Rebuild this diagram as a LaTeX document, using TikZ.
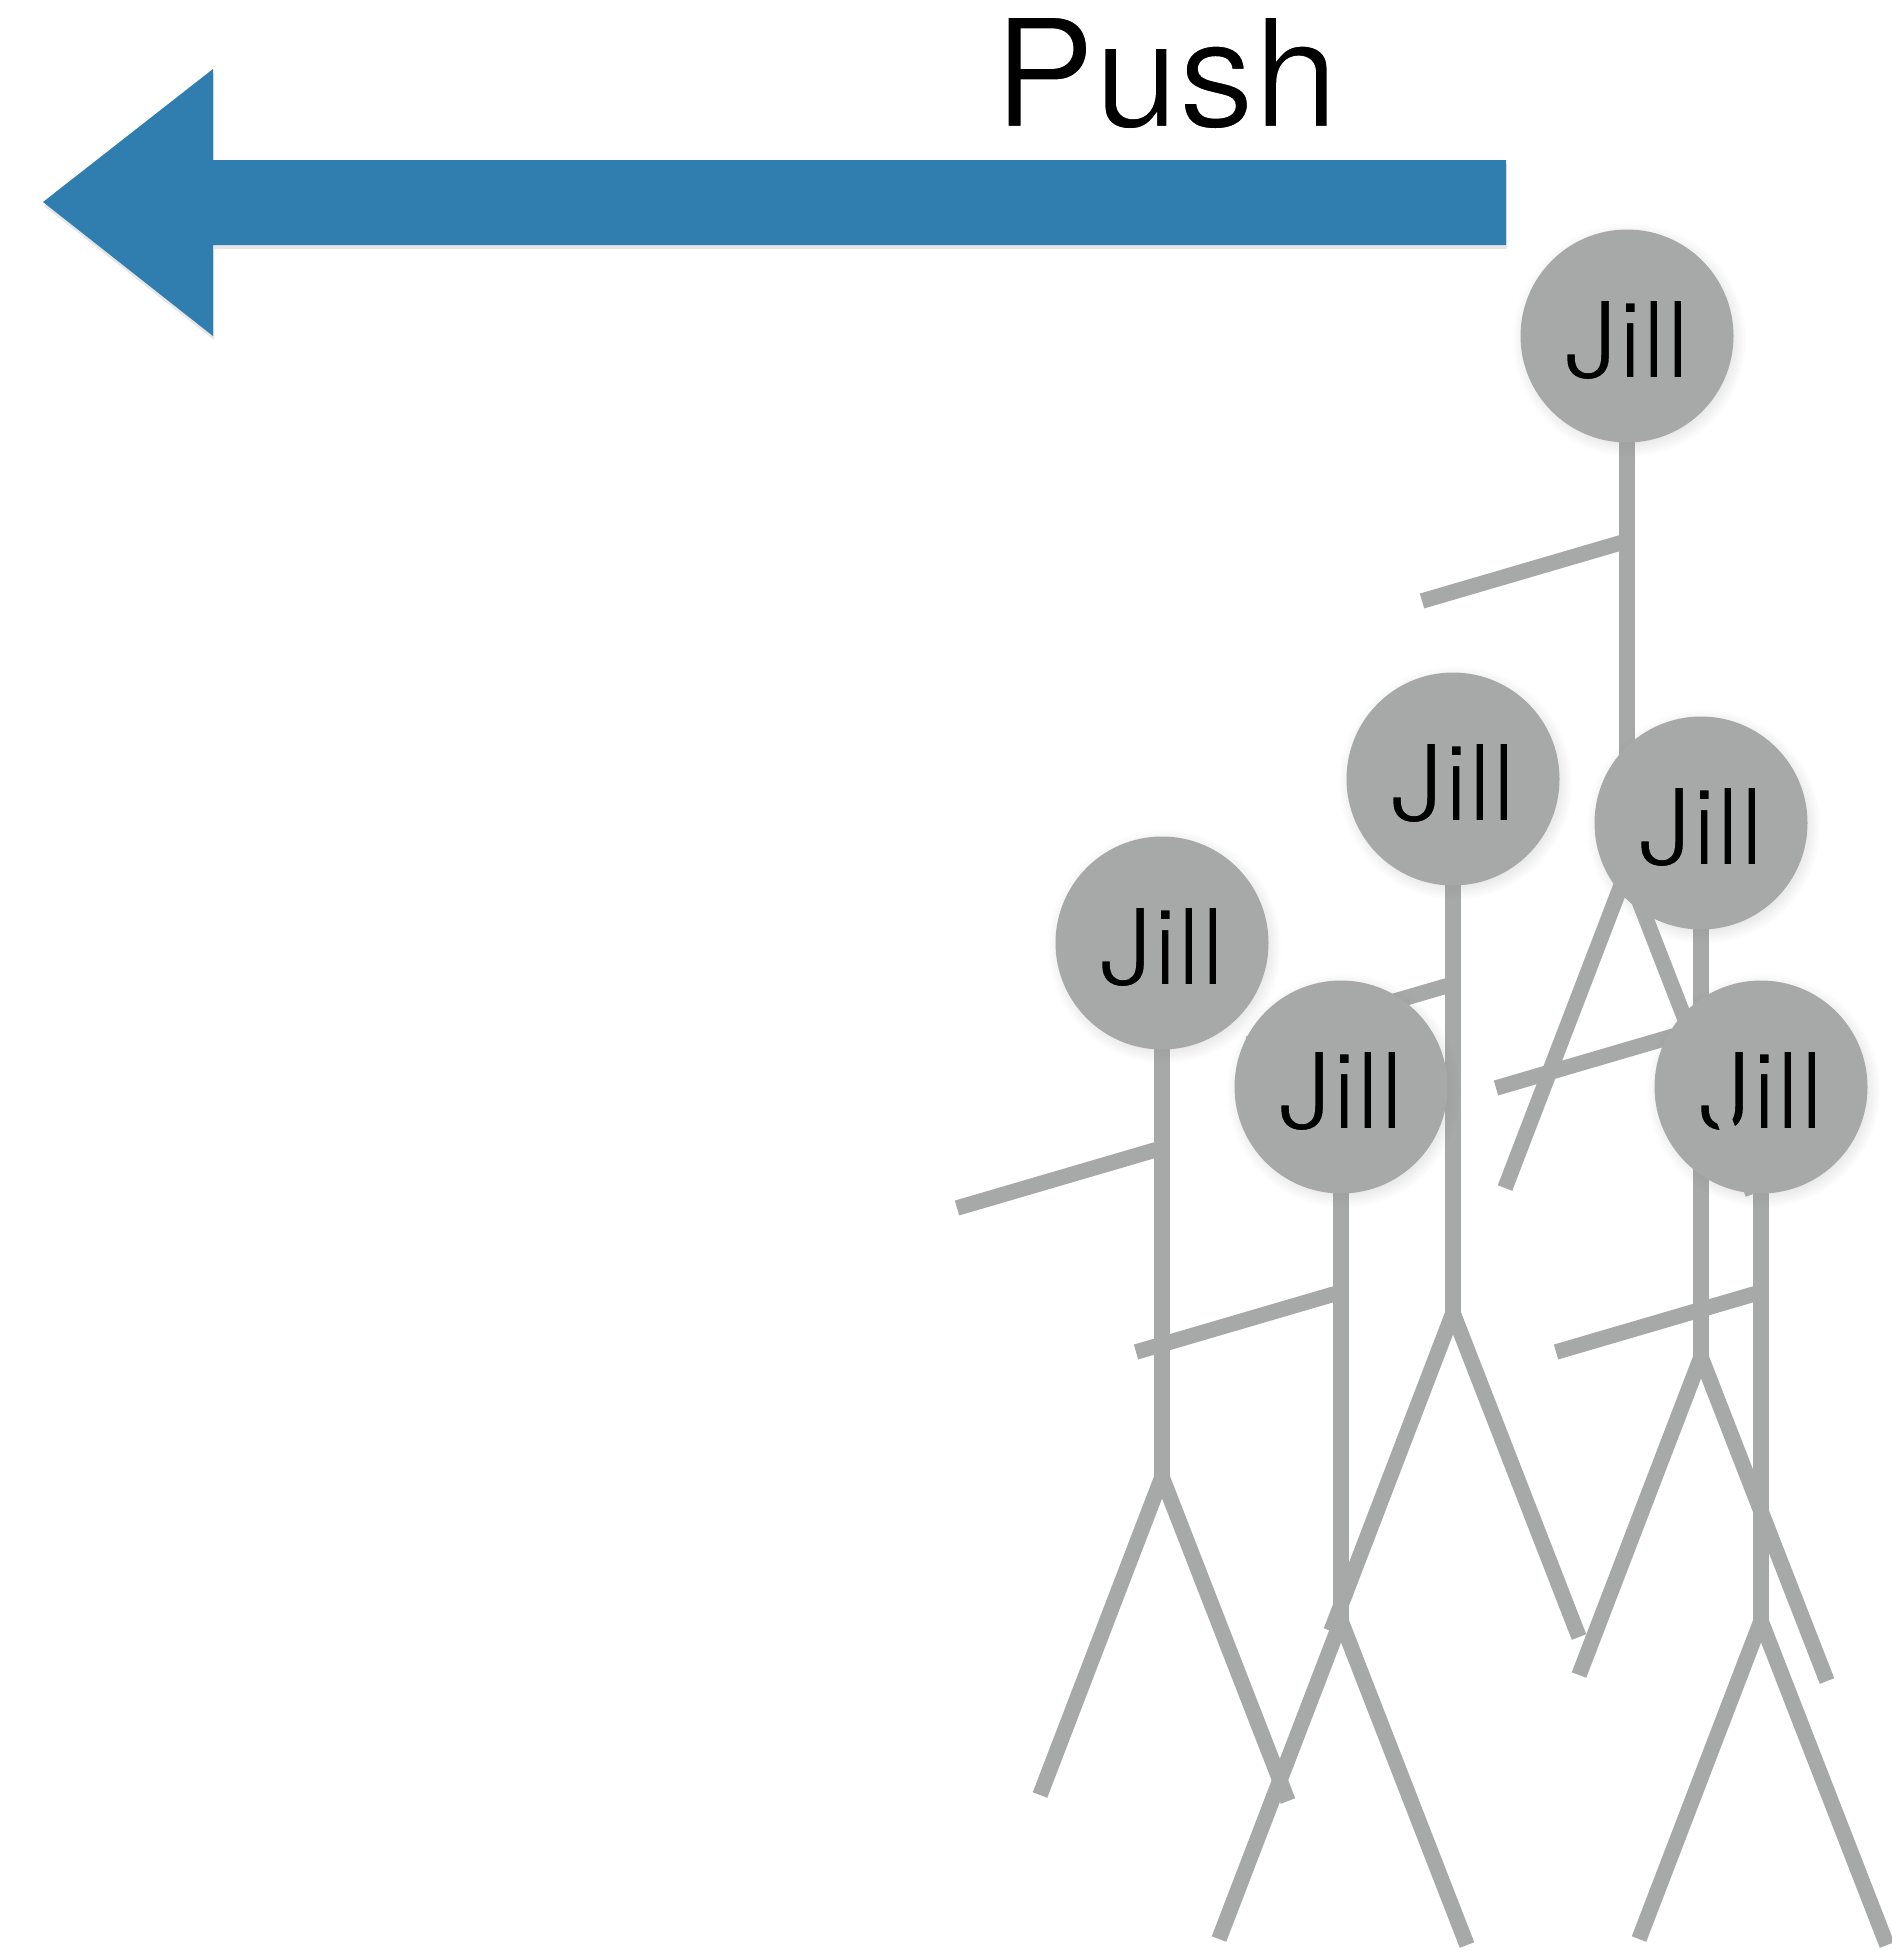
\documentclass[tikz,border=0pt]{standalone}
\usepackage{fontspec}
\setmainfont{TeX Gyre Heros}
\usepackage{tikz}
\usetikzlibrary{calc,shadows,backgrounds}

\definecolor{jillgray}{RGB}{166,169,168}
\definecolor{pushblue}{RGB}{47,126,175}

% thinner letters: stroke the outline in the colour behind the text
\newcommand\thintext[3]{\special{pdf:literal direct 2 Tr #1 w #2 RG}#3\special{pdf:literal direct 0 Tr}}

\begin{document}
\begin{tikzpicture}[x=1pt, y=-1pt,
	head/.style = {circle, fill=jillgray, minimum size=213pt, inner sep=0pt,
		font=\fontsize{108}{108}\selectfont,
		circular drop shadow={shadow xshift=2pt, shadow yshift=-3pt, opacity=0.2}},
	limb/.style = {draw=jillgray, line width=15.5pt}]
\useasboundingbox (0,0) rectangle (1891,1951);

% arrow and label
\fill[pushblue, drop shadow={shadow xshift=1pt, shadow yshift=-4pt, opacity=0.2}]
	(43,202) -- (213,69) -- (213,160) -- (1506,160) -- (1506,245)
	-- (213,245) -- (213,336) -- cycle;
\node[anchor=base, font=\fontsize{151}{151}\selectfont] (push) at (1166,127)
	{\thintext{2}{1 1 1}{Push}};

% heads
\foreach \n/\x/\y in {a/1627/336, b/1453/779, c/1701/823, d/1162/943, e/1341/1087, f/1761/1087}
	\node[head] (jill\n) at (\x,\y)
		{\raisebox{-4pt}[\height][\depth]{\thintext{2.5}{0.651 0.663 0.659}{Jill}}};

% bodies, arms and legs behind the heads
\begin{scope}[on background layer]
\foreach \n in {a,b,c,d,e,f} {
	\coordinate (hip\n) at ($(jill\n.center)+(0,534)$);
	\draw[limb] (jill\n.center) -- (hip\n);
	\draw[limb] ($(jill\n.center)+(0,205)$) -- ++(-205,60);
}
\foreach \n in {b,c,d,e,f} {
	\draw[limb] (hip\n) -- ++(-122,318);
	\draw[limb] (hip\n) -- ++(126,324);
}
\end{scope}

% top Jill's legs in front
\draw[limb] (hipa) -- ++(-122,318);
\draw[limb] (hipa) -- ++(126,324);
\end{tikzpicture}
\end{document}
